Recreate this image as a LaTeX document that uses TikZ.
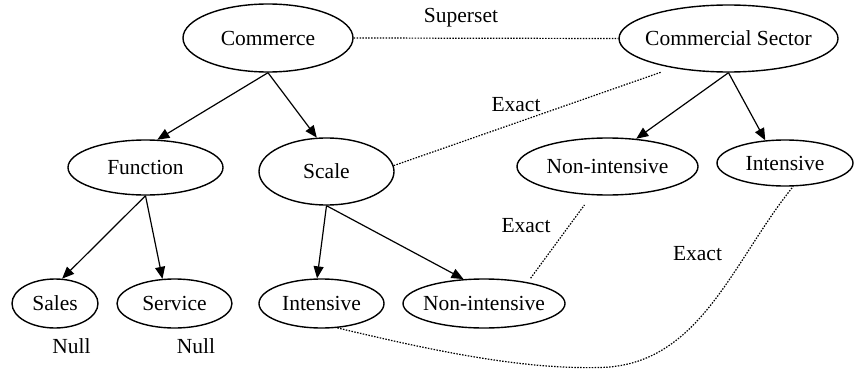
\documentclass[tikz,border=0pt]{standalone}
\usepackage{fontspec}
\newfontfamily\diagfont{Liberation Serif}
\usetikzlibrary{shapes.geometric,arrows.meta}

\begin{document}
\begin{tikzpicture}[x=1pt, y=-1pt,
  font=\diagfont\fontsize{21.5}{25}\selectfont,
  ent/.style 2 args={ellipse, draw, line width=1.4pt, inner sep=0pt, minimum width=#1, minimum height=#2},
  isa/.style={-{Triangle[length=12pt,width=10pt]}, line width=1.2pt},
  rel/.style={line width=1.2pt, dash pattern=on 1.5pt off 1.4pt}]
\useasboundingbox (0,0) rectangle (854,369);
\node[ent={170pt}{68pt}] (com) at (268,38) {Commerce};
\node[ent={219pt}{67pt}, inner xsep=-6pt] (cs) at (728.5,38.5) {Commercial Sector};
\node[ent={155pt}{55pt}] (fun) at (145.5,167.5) {Function};
\node[ent={135pt}{67pt}] (sca) at (326.5,171.5) {Scale};
\node[ent={181pt}{57pt}] (ni1) at (607.5,166.5) {Non-intensive};
\node[ent={136pt}{46pt}] (in1) at (785,163) {Intensive};
\node[ent={86pt}{49pt}] (sal) at (55,303.5) {Sales};
\node[ent={115pt}{49pt}] (ser) at (174.5,303.5) {Service};
\node[ent={125pt}{49pt}] (in2) at (321.5,303.5) {Intensive};
\node[ent={162pt}{49pt}, inner xsep=-6pt] (ni2) at (484,303.5) {Non-intensive};
\node (lsup) at (461,18) {Superset};
\node (lex1) at (516,104.5) {Exact};
\node (lex2) at (526,226) {Exact};
\node (lex3) at (697.5,254) {Exact};
\node (lnul1) at (71.5,346) {Null};
\node (lnul2) at (196,346) {Null};
\draw[isa] (com.south) -- (fun.67);
\draw[isa] (com.south) -- (sca.106);
\draw[isa] (cs.south) -- (ni1.44);
\draw[isa] (cs.south) -- (in1.131);
\draw[isa] (fun.south) -- (sal.74);
\draw[isa] (fun.south) -- (ser.116);
\draw[isa] (sca.south) -- (in2.100);
\draw[isa] (sca.south) -- (ni2.130);
\draw[rel] (com.east) -- (cs.west);
\draw[rel, shorten >=13pt] (sca.5) -- (cs.208);
\draw[rel, shorten <=5pt, shorten >=12pt] (ni2.26) -- (ni1.241);
\coordinate (dip) at (600,367.5);
\draw[rel] (in2.303) .. controls (430,350) and (520,369.5) .. (dip) .. controls (700,365.5) and (732,262) .. (in1.289);
\end{tikzpicture}
\end{document}
